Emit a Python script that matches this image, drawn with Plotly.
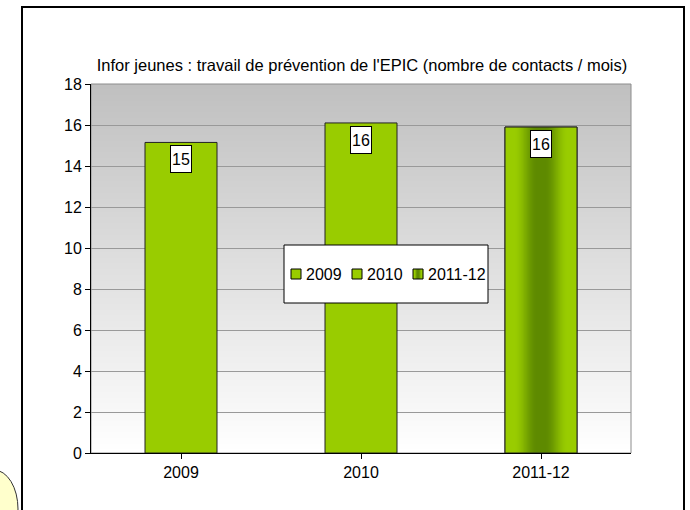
import base64
import math
import struct
import zlib

import plotly.graph_objects as go

# ---- data ----
categories = ["2009", "2010", "2011-12"]
values = [15.15, 16.1, 15.9]
value_labels = ["15", "16", "16"]
title_text = "Infor jeunes : travail de prévention de l'EPIC (nombre de contacts / mois)"
y_ticks = [0, 2, 4, 6, 8, 10, 12, 14, 16, 18]

# ---- styles ----
FONT = "Arial, Liberation Sans, sans-serif"
FS = 16
LIME = (153, 204, 0)
DARK = (94, 138, 0)
BAR_W = 0.4
W, H = 690, 510
ML, MR, MT, MB = 91, 59, 84, 57
PW, PH = W - ML - MR, H - MT - MB


def px_x(p):
    return (p - ML) / PW


def px_y(p):
    return (H - MB - p) / PH


def rgb(c):
    return "rgb(%d,%d,%d)" % tuple(int(round(v)) for v in c)


def png_uri(rows):
    """rows: list of rows, each a list of (r,g,b) tuples."""
    h = len(rows)
    w = len(rows[0])
    raw = b"".join(b"\x00" + bytes(int(round(v)) for px in row for v in px) for row in rows)

    def chunk(tag, data):
        c = struct.pack(">I", len(data)) + tag + data
        return c + struct.pack(">I", zlib.crc32(tag + data) & 0xFFFFFFFF)

    png = b"\x89PNG\r\n\x1a\n"
    png += chunk(b"IHDR", struct.pack(">IIBBBBB", w, h, 8, 2, 0, 0, 0))
    png += chunk(b"IDAT", zlib.compress(raw, 9))
    png += chunk(b"IEND", b"")
    return "data:image/png;base64," + base64.b64encode(png).decode()


def bar_profile(n):
    row = []
    for k in range(n):
        u = (k + 0.5) / n
        d = abs(u - 0.5) * 2
        s = min(1.0, max(0.0, (d - 0.1) / 0.65))
        f = 0.5 * (1 + math.cos(math.pi * s))
        row.append(tuple(LIME[j] + (DARK[j] - LIME[j]) * f for j in range(3)))
    return row


top_c, bot_c = (192, 192, 192), (255, 255, 255)
NG = 256
bg_rows = [[tuple(top_c[j] + (bot_c[j] - top_c[j]) * (k / (NG - 1)) for j in range(3))] for k in range(NG)]
BG_URI = png_uri(bg_rows)
BAR_URI = png_uri([bar_profile(64)])

fig = go.Figure()
bar_colors = [rgb(LIME), rgb(LIME), "rgb(122,170,0)"]
for i, cat in enumerate(categories):
    fig.add_trace(go.Bar(
        x=[i], y=[values[i]], name=cat, width=BAR_W,
        marker=dict(color=bar_colors[i], line=dict(color="#222222", width=1)),
        hoverinfo="skip", showlegend=False,
    ))

ymax = y_ticks[-1]
idx = 2
images = [
    dict(source=BG_URI, xref="paper", yref="paper", x=0, y=1, sizex=1, sizey=1,
         xanchor="left", yanchor="top", sizing="stretch", layer="below"),
    dict(source=BAR_URI, xref="x", yref="y", x=idx - BAR_W / 2, y=values[idx],
         sizex=BAR_W, sizey=values[idx], xanchor="left", yanchor="top",
         sizing="stretch", layer="above"),
]

shapes = []
shapes.append(dict(type="rect", xref="paper", yref="paper", x0=0, x1=1, y0=0, y1=1,
                   line=dict(color="#8c8c8c", width=1), layer="below"))
shapes.append(dict(type="rect", xref="x", yref="y",
                   x0=idx - BAR_W / 2, x1=idx + BAR_W / 2, y0=0, y1=values[idx],
                   line=dict(color="#222222", width=1), layer="above"))

# legend box (manual legend)
shapes.append(dict(type="rect", xref="paper", yref="paper",
                   x0=px_x(284), x1=px_x(488), y0=px_y(303), y1=px_y(245),
                   fillcolor="white", line=dict(color="black", width=1), layer="above"))
leg_sq_x = [291, 352, 413]
leg_txt_x = [304, 365, 426]
leg_y = 274
annotations = []
for i, cat in enumerate(categories):
    x0, x1 = px_x(leg_sq_x[i]), px_x(leg_sq_x[i] + 10)
    y0, y1 = px_y(leg_y + 5), px_y(leg_y - 5)
    if i == idx:
        prof = bar_profile(10)
        for k, c in enumerate(prof):
            shapes.append(dict(type="rect", xref="paper", yref="paper",
                               x0=px_x(leg_sq_x[i] + k), x1=px_x(leg_sq_x[i] + k + 1.2),
                               y0=y0, y1=y1, fillcolor=rgb(c), line=dict(width=0),
                               layer="above"))
        shapes.append(dict(type="rect", xref="paper", yref="paper", x0=x0, x1=x1, y0=y0, y1=y1,
                           line=dict(color="black", width=1), layer="above"))
    else:
        shapes.append(dict(type="rect", xref="paper", yref="paper", x0=x0, x1=x1, y0=y0, y1=y1,
                           fillcolor=rgb(LIME), line=dict(color="black", width=1), layer="above"))
    annotations.append(dict(x=px_x(leg_txt_x[i]), y=px_y(leg_y), xref="paper", yref="paper",
                            text=cat, showarrow=False, xanchor="left", yanchor="middle",
                            font=dict(family=FONT, size=FS, color="black")))

# outer frame
shapes.append(dict(type="rect", xref="paper", yref="paper",
                   x0=px_x(22), x1=px_x(684), y0=px_y(560), y1=px_y(7),
                   line=dict(color="black", width=2), layer="below"))
# yellow bubble bottom-left
shapes.append(dict(type="circle", xref="paper", yref="paper",
                   x0=px_x(-30), x1=px_x(18), y0=px_y(548), y1=px_y(470),
                   fillcolor="#FFFFCC", line=dict(color="#333333", width=1), layer="above"))

for i, lab in enumerate(value_labels):
    annotations.append(dict(x=i, y=values[i], xref="x", yref="y", text=lab,
                            showarrow=False, yanchor="top", yshift=-3,
                            width=18, height=24, borderpad=1,
                            bgcolor="white", bordercolor="black", borderwidth=1,
                            font=dict(family=FONT, size=FS, color="black")))

fig.update_layout(
    width=W, height=H,
    margin=dict(l=ML, r=MR, t=MT, b=MB, pad=0),
    paper_bgcolor="white", plot_bgcolor="rgba(0,0,0,0)",
    font=dict(family=FONT, size=FS, color="black"),
    title=dict(text=title_text, x=px_x(362), xref="paper", xanchor="center",
               y=1 - 65 / H, yref="container", yanchor="middle",
               font=dict(family=FONT, size=16.5, color="black")),
    barmode="overlay",
    showlegend=False,
    shapes=shapes,
    images=images,
    annotations=annotations,
)
fig.update_xaxes(
    tickmode="array", tickvals=list(range(len(categories))), ticktext=categories,
    range=[-0.5, len(categories) - 0.5],
    showline=True, linecolor="black", linewidth=1,
    ticks="outside", tickson="boundaries", ticklen=5, tickcolor="black",
    showgrid=False, zeroline=False, fixedrange=True,
    tickfont=dict(family=FONT, size=FS, color="black"),
)
fig.update_yaxes(
    range=[0, ymax], tickmode="array", tickvals=y_ticks,
    showline=True, linecolor="black", linewidth=1,
    ticks="outside", ticklen=5, tickcolor="black",
    showgrid=True, gridcolor="#999999", gridwidth=1,
    zeroline=False, fixedrange=True,
    tickfont=dict(family=FONT, size=FS, color="black"),
)

fig.write_html("out.html", config={"displayModeBar": False},
               post_script="document.body.style.margin='0';")
